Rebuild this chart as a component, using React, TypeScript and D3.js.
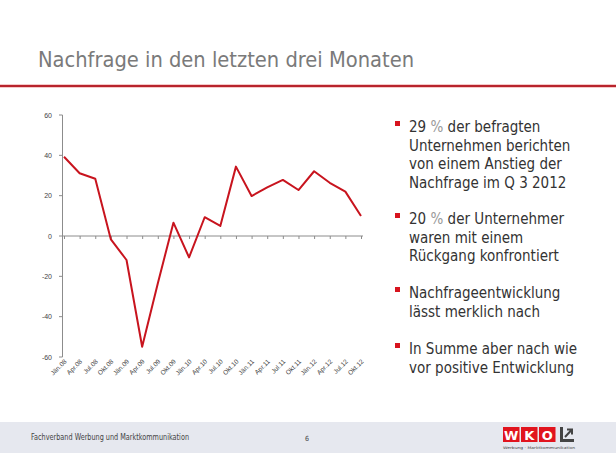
import React from "react";
import * as d3 from "d3";

const categories = ["Jän.08","Apr.08","Jul.08","Okt.08","Jän.09","Apr.09","Jul.09","Okt.09","Jän.10","Apr.10","Jul.10","Okt.10","Jän.11","Apr.11","Jul.11","Okt.11","Jän.12","Apr.12","Jul.12","Okt.12"];
const values = [39.3,31.1,28.4,-1.7,-11.9,-54.9,-23.5,6.6,-10.6,9.3,5.0,34.4,19.8,24.1,27.8,22.8,32.1,26.4,22.0,9.9];
const yTicks = [60,40,20,0,-20,-40,-60];
const bullets = [
  [["29 ", "% ", "der befragten"], ["Unternehmen berichten"], ["von einem Anstieg der"], ["Nachfrage im Q 3 2012"]],
  [["20 ", "% ", "der Unternehmer"], ["waren mit einem"], ["Rückgang konfrontiert"]],
  [["Nachfrageentwicklung"], ["lässt merklich nach"]],
  [["In Summe aber nach wie"], ["vor positive Entwicklung"]],
];
const bulletTops = [127, 219, 293, 349];
const title = "Nachfrage in den letzten drei Monaten";
const footer = "Fachverband Werbung und Marktkommunikation";

export default function App() {
  const x = d3.scalePoint<string>().domain(categories).range([64, 361]);
  const y = d3.scaleLinear().domain([-60, 60]).range([357, 115]);
  const line = d3.line<number>().x((_, i) => x(categories[i])!).y((d) => y(d));
  const axisColor = "#8c8c8c";
  const textFont = "'DejaVu Sans Condensed', 'DejaVu Sans', sans-serif";
  return (
    <svg width={616} height={462} style={{ position: "absolute", left: 0, top: 0, background: "#fff" }}>
      <rect x={0} y={0} width={616} height={462} fill="#fff" />
      <text x={38} y={67} fontFamily={textFont} fontSize={22} fill="#7a7a7a" textLength={376} lengthAdjust="spacingAndGlyphs">{title}</text>
      <rect x={0} y={84} width={616} height={4} fill="#f6c9c9" />
      <rect x={0} y={85} width={616} height={2} fill="#b8242c" />

      {/* y axis */}
      <line x1={62.5} x2={62.5} y1={y(60)} y2={y(-60)} stroke={axisColor} strokeWidth={1} />
      {yTicks.map((t) => (
        <g key={t}>
          <line x1={59} x2={62.5} y1={y(t)} y2={y(t)} stroke={axisColor} />
          <text x={52} y={y(t) + 2.5} fontFamily="Arial, 'Liberation Sans', sans-serif" fontSize={7} fill="#444" textAnchor="end">{t}</text>
        </g>
      ))}
      {/* x axis at 0 */}
      <line x1={62.5} x2={363} y1={y(0)} y2={y(0)} stroke={axisColor} />
      {categories.map((c) => (
        <line key={c} x1={x(c)! + 0.5} x2={x(c)! + 0.5} y1={y(0)} y2={y(0) + 3} stroke={axisColor} />
      ))}
      {categories.map((c) => (
        <text key={"l" + c} transform={`translate(${x(c)! + 3},${362}) rotate(-45)`} fontFamily="Arial, 'Liberation Sans', sans-serif" fontSize={6.5} fill="#444" textAnchor="end">{c}</text>
      ))}
      <path d={line(values)!} fill="none" stroke="#c8141e" strokeWidth={2} strokeLinejoin="round" />

      {/* bullets */}
      {bullets.map((b, bi) => (
        <g key={bi}>
          <rect x={395} y={bulletTops[bi] - 6} width={5} height={5} fill="#d7141e" />
          {b.map((ln, li) => (
            <text key={li} x={409} y={bulletTops[bi] + 5 + li * 18.7} fontFamily={textFont} fontSize={15} fill="#333">
              {ln.length === 3 ? (
                <>
                  <tspan>{ln[0]}</tspan>
                  <tspan fill="#999">{ln[1]}</tspan>
                  <tspan>{ln[2]}</tspan>
                </>
              ) : ln[0]}
            </text>
          ))}
        </g>
      ))}

      {/* footer */}
      <rect x={0} y={422} width={616} height={31} fill="#e6e8ef" />
      <text x={31} y={440} fontFamily={textFont} fontSize={8} fill="#444" textLength={158} lengthAdjust="spacingAndGlyphs">{footer}</text>
      <text x={305} y={441} fontFamily={textFont} fontSize={7} fill="#444">6</text>
      <g>
        {["W", "K", "O"].map((l, i) => (
          <g key={l}>
            <rect x={503 + i * 18} y={427} width={16.5} height={15} fill="#e1141e" />
            <text x={511.2 + i * 18} y={439.5} textAnchor="middle" fontFamily="'DejaVu Sans', sans-serif" fontWeight="bold" fontSize={13} fill="#fff">{l}</text>
          </g>
        ))}
        <path d="M561.5,427 L561.5,440.5 L574,440.5" fill="none" stroke="#444" strokeWidth={3} />
        <path d="M565,437 L572,429.5 M567,429.5 L572,429.5 L572,434.5" fill="none" stroke="#444" strokeWidth={2} />
        <text x={503} y={449} fontFamily="'DejaVu Sans', sans-serif" fontSize={3.6} fill="#444" textLength={72} lengthAdjust="spacingAndGlyphs">Werbung · Marktkommunikation</text>
      </g>
    </svg>
  );
}
